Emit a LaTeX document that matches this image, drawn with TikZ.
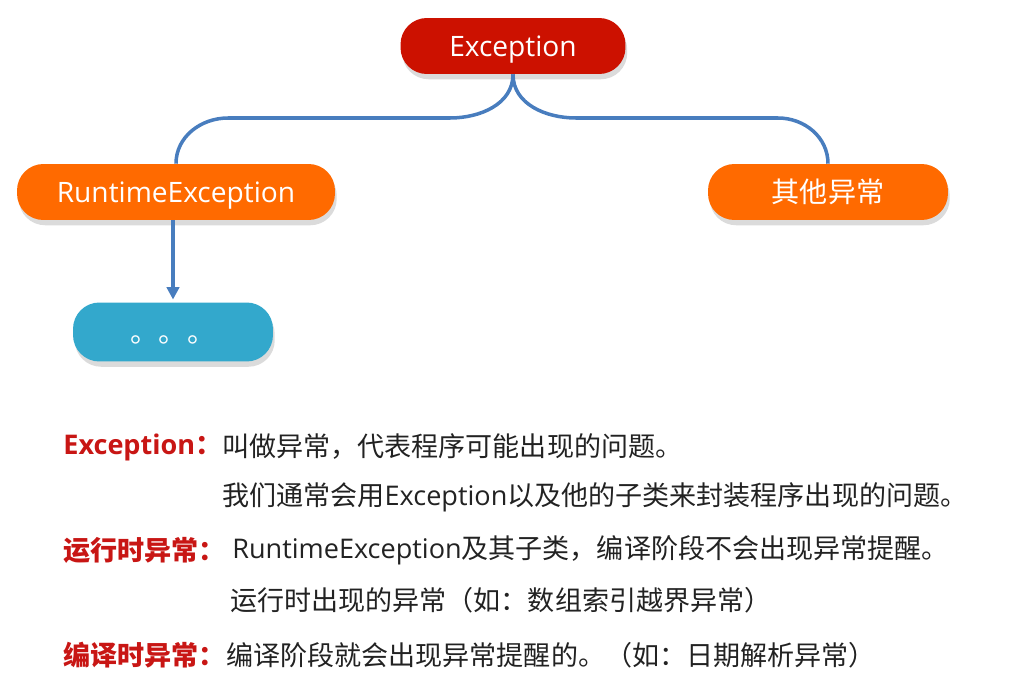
\documentclass[tikz,border=0pt]{standalone}
\usepackage{fontspec}
\setmainfont{Open Sans}
\newfontfamily\cjk{Noto Sans CJK SC}
\usetikzlibrary{shadows,arrows.meta}
\definecolor{excred}{RGB}{204,17,0}
\definecolor{rtorange}{RGB}{255,106,0}
\definecolor{dotblue}{RGB}{51,168,204}
\definecolor{linkblue}{RGB}{72,125,190}
\definecolor{labelred}{RGB}{200,22,20}
\definecolor{bodytext}{RGB}{34,34,34}
\newcommand\txtsize{\fontsize{15.4pt}{18pt}\selectfont}
\newcommand\pillsize{\fontsize{16pt}{19pt}\selectfont}
\tikzset{
  pill/.style={rectangle, rounded corners=15pt, text=white, inner sep=0pt,
    minimum height=1.12cm, font=\pillsize, text height=11.5pt, text depth=0pt,
    drop shadow={shadow xshift=1pt, shadow yshift=-3pt, fill=black!14, opacity=1}},
  link/.style={draw=linkblue, line width=2pt},
  label/.style={anchor=west, inner sep=0pt, text=labelred, font=\txtsize\bfseries},
  body/.style={anchor=west, inner sep=0pt, text=bodytext, font=\txtsize},
}
\begin{document}
\begin{tikzpicture}[x=0.02cm, y=-0.02cm]
  \useasboundingbox (0,0) rectangle (1019,693);
  % tree
  \node[pill, fill=excred, minimum width=4.5cm] (exc) at (513,46) {Exception};
  \node[pill, fill=rtorange, minimum width=6.36cm] (rt) at (176,192) {RuntimeException};
  \node[pill, fill=rtorange, minimum width=4.8cm] (other) at (828,192) {\cjk 其他异常};
  \node[pill, fill=dotblue, minimum width=4cm, minimum height=1.18cm] (dots) at (173,332) {\cjk 。。。};
  \coordinate (lbend) at (450,118);
  \coordinate (lcorner) at (228,118);
  \coordinate (rbend) at (576,118);
  \coordinate (rcorner) at (778,118);
  \draw[link] (exc.south) to[out=-90,in=0] (lbend) -- (lcorner) to[out=180,in=90] (rt.north);
  \draw[link] (exc.south) to[out=-90,in=180] (rbend) -- (rcorner) to[out=0,in=90] (other.north);
  \draw[link, -{Triangle[length=7pt,width=7pt]}, shorten >=1.5pt] (rt.south -| dots.north) -- (dots.north);
  % notes
  \node[label] (excl) at (63,447) {Exception{\cjk ：}};
  \node[body] (exct1) at (222,447) {\cjk 叫做异常，代表程序可能出现的问题。};
  \node[body] (exct2) at (222,497) {{\cjk 我们通常会用}Exception{\cjk 以及他的子类来封装程序出现的问题。}};
  \node[label] (rtl) at (63,550) {\cjk 运行时异常：};
  \node[body] (rtt1) at (232,550) {RuntimeException{\cjk 及其子类，编译阶段不会出现异常提醒。}};
  \node[body] (rtt2) at (230,600) {\cjk 运行时出现的异常（如：数组索引越界异常）};
  \node[label] (cpl) at (63,655) {\cjk 编译时异常：};
  \node[body] (cpt) at (226,655) {\cjk 编译阶段就会出现异常提醒的。（如：日期解析异常）};
\end{tikzpicture}
\end{document}
